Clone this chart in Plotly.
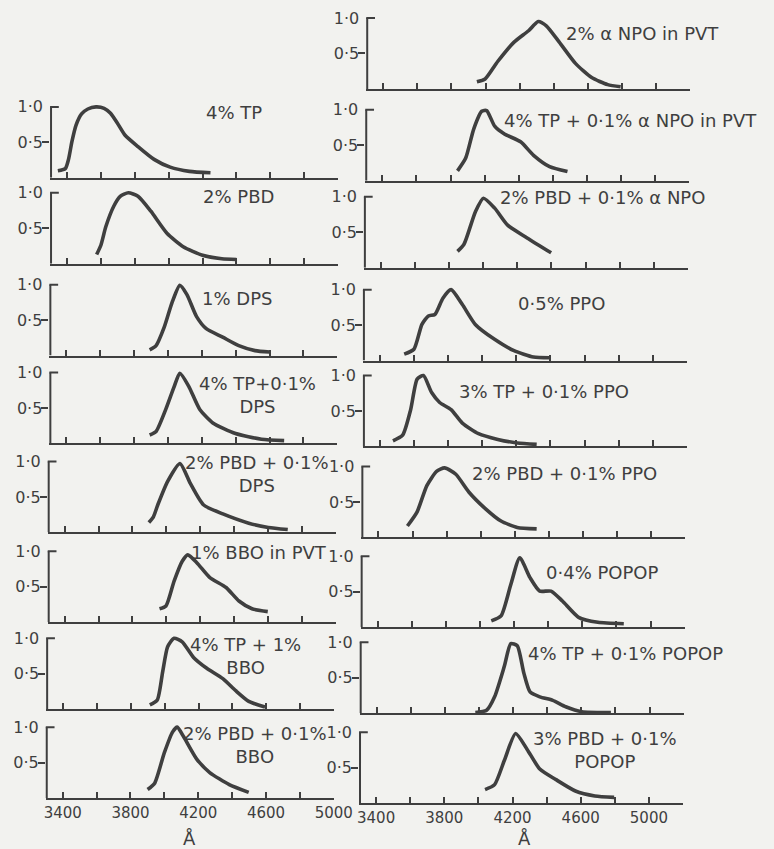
import plotly.graph_objects as go

W, H = 774, 849

# ---------------- data (wavelength in Å, relative intensity) ----------------
tp4_wl = [3346, 3390, 3409, 3429, 3453, 3486, 3523, 3571, 3619, 3657, 3695, 3743, 3819, 3914, 4009, 4123, 4247]
tp4_in = [0.10, 0.13, 0.26, 0.51, 0.74, 0.90, 0.97, 1.00, 0.98, 0.91, 0.78, 0.60, 0.44, 0.26, 0.15, 0.09, 0.07]

pbd2_wl = [3575, 3600, 3629, 3676, 3714, 3762, 3819, 3895, 3990, 4086, 4200, 4314, 4400]
pbd2_in = [0.13, 0.26, 0.52, 0.81, 0.95, 1.00, 0.95, 0.74, 0.43, 0.24, 0.12, 0.07, 0.06]

dps1_wl = [3892, 3930, 3978, 4026, 4070, 4112, 4169, 4226, 4323, 4418, 4514, 4600]
dps1_in = [0.08, 0.14, 0.40, 0.76, 0.99, 0.86, 0.55, 0.38, 0.26, 0.14, 0.07, 0.05]

tpdps_wl = [3892, 3930, 3987, 4035, 4070, 4122, 4188, 4265, 4399, 4552, 4686]
tpdps_in = [0.12, 0.17, 0.48, 0.79, 0.99, 0.81, 0.48, 0.29, 0.14, 0.06, 0.04]

pbddps_wl = [3897, 3924, 3950, 4008, 4081, 4142, 4219, 4334, 4487, 4602, 4717]
pbddps_in = [0.14, 0.22, 0.39, 0.72, 0.97, 0.69, 0.39, 0.26, 0.13, 0.07, 0.04]

bbo1_wl = [3960, 3998, 4046, 4094, 4127, 4180, 4257, 4353, 4429, 4506, 4599]
bbo1_in = [0.19, 0.23, 0.58, 0.86, 0.95, 0.84, 0.63, 0.49, 0.30, 0.19, 0.15]

tpbbo_wl = [3912, 3956, 3988, 4017, 4055, 4103, 4170, 4246, 4343, 4419, 4496, 4592]
tpbbo_in = [0.06, 0.13, 0.53, 0.88, 1.00, 0.95, 0.73, 0.58, 0.43, 0.26, 0.11, 0.03]

pbdbbo_wl = [3901, 3943, 4000, 4048, 4076, 4115, 4191, 4268, 4383, 4498]
pbdbbo_in = [0.12, 0.21, 0.64, 0.93, 1.00, 0.86, 0.55, 0.36, 0.19, 0.08]

npo2_wl = [3949, 3997, 4072, 4167, 4252, 4309, 4356, 4432, 4527, 4622, 4716, 4792]
npo2_in = [0.10, 0.14, 0.39, 0.66, 0.82, 0.95, 0.89, 0.66, 0.36, 0.16, 0.06, 0.03]

tpnpo_wl = [3841, 3889, 3936, 3983, 4012, 4059, 4116, 4211, 4287, 4381, 4486]
tpnpo_in = [0.14, 0.32, 0.73, 0.98, 0.99, 0.77, 0.66, 0.55, 0.36, 0.20, 0.13]

pbdnpo_wl = [3849, 3887, 3954, 4001, 4067, 4143, 4257, 4398]
pbdnpo_in = [0.23, 0.33, 0.79, 0.98, 0.84, 0.60, 0.42, 0.21]

ppo05_wl = [3542, 3599, 3646, 3684, 3722, 3769, 3817, 3883, 3959, 4072, 4186, 4300, 4394]
ppo05_in = [0.09, 0.16, 0.51, 0.63, 0.65, 0.88, 1.00, 0.79, 0.51, 0.30, 0.14, 0.05, 0.04]

tpppo_wl = [3476, 3533, 3580, 3618, 3655, 3703, 3750, 3817, 3883, 3978, 4091, 4205, 4319]
tpppo_in = [0.08, 0.16, 0.52, 0.95, 1.00, 0.76, 0.62, 0.52, 0.33, 0.18, 0.10, 0.05, 0.03]

pbdppo_wl = [3570, 3627, 3684, 3741, 3788, 3854, 3930, 4025, 4119, 4214, 4328]
pbdppo_in = [0.16, 0.36, 0.73, 0.93, 0.98, 0.89, 0.64, 0.41, 0.23, 0.14, 0.12]

popop04_wl = [4066, 4123, 4180, 4233, 4293, 4350, 4416, 4483, 4578, 4691, 4843]
popop04_in = [0.09, 0.16, 0.60, 0.98, 0.70, 0.51, 0.51, 0.37, 0.14, 0.07, 0.05]

tppopop_wl = [3978, 4044, 4091, 4148, 4186, 4224, 4262, 4299, 4356, 4432, 4508, 4603, 4773]
tppopop_in = [0.01, 0.04, 0.23, 0.66, 0.98, 0.95, 0.57, 0.30, 0.23, 0.18, 0.09, 0.02, 0.01]

pbdpopop_wl = [4039, 4095, 4152, 4218, 4285, 4360, 4455, 4569, 4683, 4796]
pbdpopop_in = [0.19, 0.26, 0.60, 0.98, 0.76, 0.48, 0.33, 0.17, 0.10, 0.08]

tick_vals = [3400, 3600, 3800, 4000, 4200, 4400, 4600, 4800, 5000]
tick_text = ["3400", "", "3800", "", "4200", "", "4600", "", "5000"]

# (column, baseline px, x shift px (scan tilt), wavelengths, intensities,
#  label, label centre px x, y)
panels = [
    ("L", 177, 4.4, tp4_wl, tp4_in, "4% TP", 238, 112),
    ("L", 263, 4.4, pbd2_wl, pbd2_in, "2% PBD", 243, 196),
    ("L", 355, 3.7, dps1_wl, dps1_in, "1% DPS", 242, 298),
    ("L", 443, 3.7, tpdps_wl, tpdps_in, "4% TP+0·1%<br>DPS", 263, 394),
    ("L", 532, 2.0, pbddps_wl, pbddps_in, "2% PBD + 0·1%<br>DPS", 262, 474),
    ("L", 622, 2.0, bbo1_wl, bbo1_in, "1% BBO in PVT", 264, 552),
    ("L", 709, 0.4, tpbbo_wl, tpbbo_in, "4% TP + 1%<br>BBO", 250, 656),
    ("L", 798, 0.0, pbdbbo_wl, pbdbbo_in, "2% PBD + 0·1%<br>BBO", 260, 745),
    ("R", 88, 7.4, npo2_wl, npo2_in, "2% α NPO in PVT", 658, 33),
    ("R", 180, 6.4, tpnpo_wl, tpnpo_in, "4% TP + 0·1% α NPO in PVT", 646, 120),
    ("R", 267, 5.0, pbdnpo_wl, pbdnpo_in, "2% PBD + 0·1% α NPO", 617, 197),
    ("R", 360, 4.0, ppo05_wl, ppo05_in, "0·5% PPO", 575, 303),
    ("R", 446, 4.0, tpppo_wl, tpppo_in, "3% TP + 0·1% PPO", 557, 391),
    ("R", 537, 2.4, pbdppo_wl, pbdppo_in, "2% PBD + 0·1% PPO", 578, 473),
    ("R", 627, 1.7, popop04_wl, popop04_in, "0·4% POPOP", 617, 572),
    ("R", 713, 0.7, tppopop_wl, tppopop_in, "4% TP + 0·1% POPOP", 641, 653),
    ("R", 803, 0.0, pbdpopop_wl, pbdpopop_in, "3% PBD + 0·1%<br>POPOP", 620, 750),
]

INK = "#3f3f3f"
PAPER = "#f2f2ef"
FONT = "DejaVu Sans"
PANEL_H = 71      # pixels from 0 to 1.0
YTOP = 1.12       # headroom above 1.0 so the peaks are not clipped

col_px = {"L": (45, 341, [3300, 5000]),
          "R": (367, 700, [3300, 5200])}

fig = go.Figure()
layout = {}
shapes = []
annotations = []
bottom = {"L": max(p[1] for p in panels if p[0] == "L"),
          "R": max(p[1] for p in panels if p[0] == "R")}

for i, (col, base, dx, wl, inten, label, lx, ly) in enumerate(panels, start=1):
    x0, x1, xr = col_px[col]
    x0, x1 = x0 + dx, x1 + dx
    xa = "x" if i == 1 else f"x{i}"
    ya = "y" if i == 1 else f"y{i}"
    is_bottom = base == bottom[col]
    fig.add_trace(go.Scatter(
        x=wl, y=inten, xaxis=xa, yaxis=ya, mode="lines",
        line=dict(color=INK, width=3.6, shape="spline", smoothing=0.6),
        showlegend=False, hoverinfo="skip"))
    layout["xaxis" if i == 1 else f"xaxis{i}"] = dict(
        domain=[x0 / W, x1 / W], range=xr, anchor=ya,
        showline=True, linecolor=INK, linewidth=2,
        ticks="inside", ticklen=6, tickwidth=1.7, tickcolor=INK,
        tickvals=tick_vals,
        ticktext=tick_text if is_bottom else [""] * len(tick_vals),
        showticklabels=is_bottom, showgrid=False, zeroline=False,
        tickfont=dict(family=FONT, size=15, color=INK), fixedrange=True)
    layout["yaxis" if i == 1 else f"yaxis{i}"] = dict(
        domain=[1 - base / H, 1 - (base - PANEL_H * YTOP) / H],
        range=[0, YTOP], anchor=xa, showline=False,
        tickvals=[0.5, 1.0], ticktext=["0·5", "1·0"], ticks="",
        ticklabelstandoff=6,
        minor=dict(tickvals=[0.5], ticks="outside", ticklen=7,
                   tickwidth=2, tickcolor=INK),
        showgrid=False, zeroline=False,
        tickfont=dict(family=FONT, size=16, color=INK), fixedrange=True)
    w = x1 - x0
    # vertical axis from 0 to 1.0 and the short stub at 1.0
    shapes.append(dict(type="line", xref=f"{xa} domain", yref=ya,
                       x0=1 / w, x1=1 / w, y0=0, y1=1.0,
                       line=dict(color=INK, width=2)))
    shapes.append(dict(type="line", xref=f"{xa} domain", yref=ya,
                       x0=0, x1=9 / w, y0=1.0, y1=1.0,
                       line=dict(color=INK, width=2)))
    annotations.append(dict(text=label, x=lx / W, y=1 - ly / H,
                            xref="paper", yref="paper", showarrow=False,
                            xanchor="center", yanchor="middle", align="center",
                            font=dict(family=FONT, size=18, color=INK)))

for ax_x in (193, 537):
    annotations.append(dict(text="Å", x=ax_x / W, y=1 - 838 / H,
                            xref="paper", yref="paper", showarrow=False,
                            xanchor="center", yanchor="middle",
                            font=dict(family=FONT, size=18, color=INK)))

fig.update_layout(**layout)
fig.update_layout(width=W, height=H, margin=dict(l=0, r=0, t=0, b=0),
                  paper_bgcolor=PAPER, plot_bgcolor=PAPER,
                  shapes=shapes, annotations=annotations, showlegend=False)

fig.write_html("out.html", config={"displayModeBar": False},
               post_script="document.body.style.margin='0';"
                           "document.body.style.overflow='hidden';")
